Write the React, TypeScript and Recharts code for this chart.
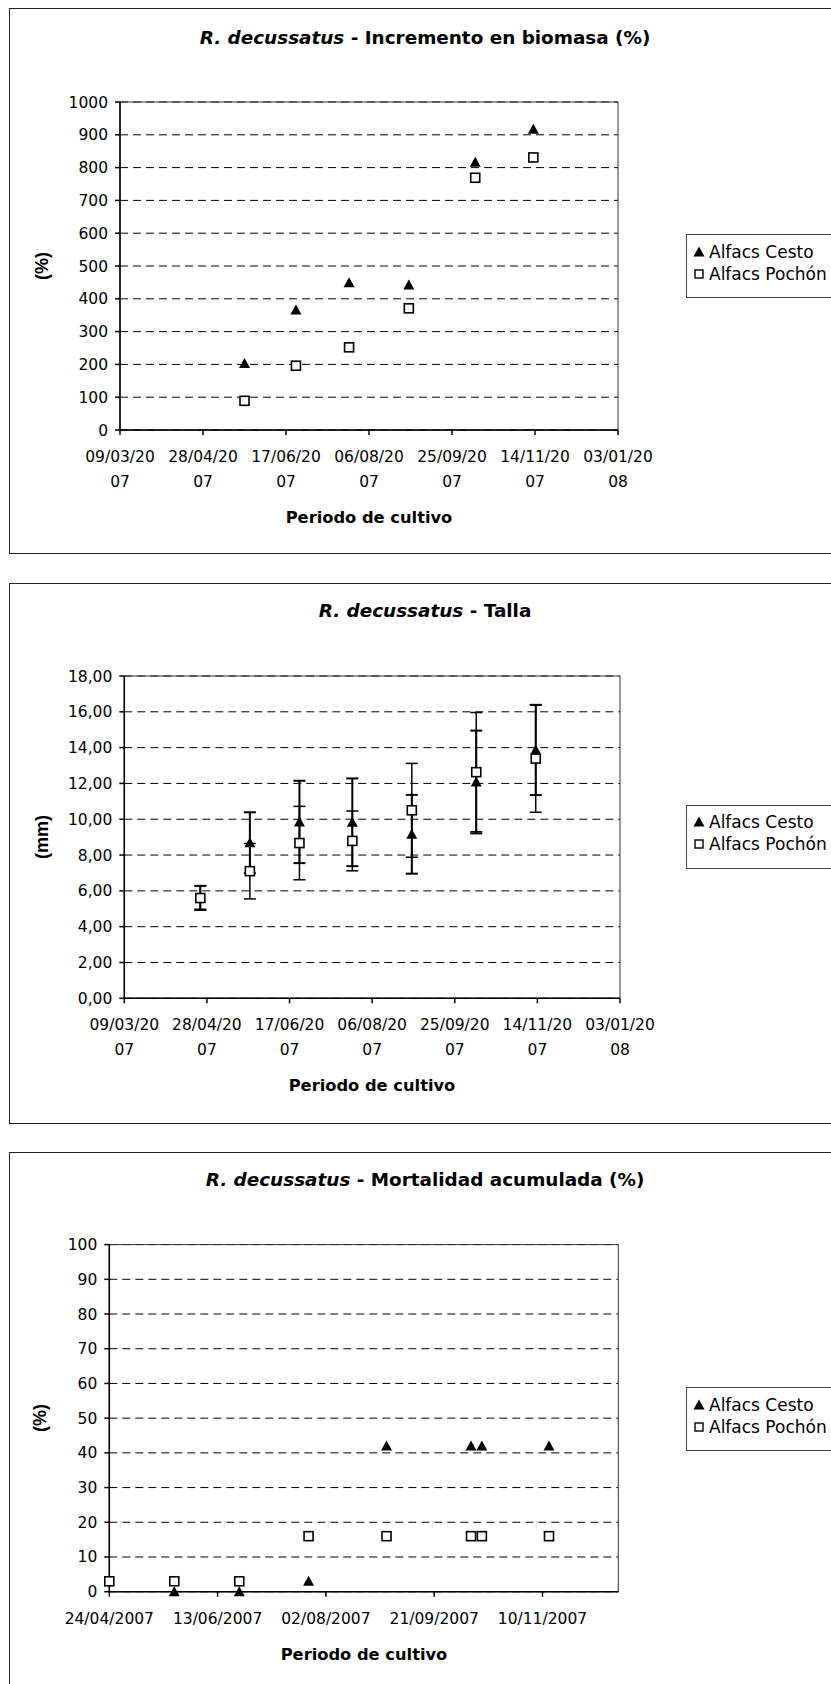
import React from 'react';
import { ScatterChart, Scatter, XAxis, YAxis, CartesianGrid, ErrorBar, ReferenceArea } from 'recharts';

const FONT = '"DejaVu Sans", sans-serif';
const RFONT = '"Liberation Sans", Arial, sans-serif';

// ---------- data ----------
const seriesNames = ['Alfacs Cesto', 'Alfacs Pochón'];

const titles = [
  ['R. decussatus', ' - Incremento en biomasa (%)'],
  ['R. decussatus', ' - Talla'],
  ['R. decussatus', ' - Mortalidad acumulada (%)'],
];
const yLabels = ['(%)', '(mm)', '(%)'];
const xLabel = 'Periodo de cultivo';

// Chart 1: Incremento en biomasa (%)
const biomasaDates = ['2007-05-23', '2007-06-23', '2007-07-25', '2007-08-30', '2007-10-09', '2007-11-13'];
const biomasaCesto = [203, 366, 449, 442, 816, 917];
const biomasaPochon = [89, 196, 252, 371, 769, 831];

// Chart 2: Talla (mm) with standard deviation
const tallaDates = ['2007-04-24', '2007-05-24', '2007-06-23', '2007-07-25', '2007-08-30', '2007-10-08', '2007-11-13'];
const tallaCesto = [5.62, 8.69, 9.85, 9.83, 9.16, 12.08, 13.87];
const tallaCestoSD = [0.66, 1.7, 2.3, 2.45, 2.2, 2.87, 2.52];
const tallaPochon = [5.6, 7.1, 8.67, 8.79, 10.5, 12.63, 13.39];
const tallaPochonSD = [0.68, 1.55, 2.05, 1.67, 2.62, 3.33, 3.0];

// Chart 3: Mortalidad acumulada (%)
const mortDates = ['2007-04-24', '2007-05-24', '2007-06-23', '2007-07-25', '2007-08-30', '2007-10-08', '2007-10-13', '2007-11-13'];
const mortCesto = [3, 0, 0, 3, 42, 42, 42, 42];
const mortPochon = [3, 3, 3, 16, 16, 16, 16, 16];

// axis ticks
const dateTicksA = ['2007-03-09', '2007-04-28', '2007-06-17', '2007-08-06', '2007-09-25', '2007-11-14', '2008-01-03'];
const dateTicksB = ['2007-04-24', '2007-06-13', '2007-08-02', '2007-09-21', '2007-11-10'];
const dateDomainB = ['2007-04-24', '2007-12-15'];
const yTicksBiomasa = [0, 100, 200, 300, 400, 500, 600, 700, 800, 900, 1000];
const yTicksTalla = [0, 2, 4, 6, 8, 10, 12, 14, 16, 18];
const yTicksMort = [0, 10, 20, 30, 40, 50, 60, 70, 80, 90, 100];

// ---------- helpers ----------
const DAY = 86400000;
const toDay = (s: string) => {
  const [y, m, d] = s.split('-').map(Number);
  return Date.UTC(y, m - 1, d) / DAY;
};
const fmtDate = (s: string) => {
  const [y, m, d] = s.split('-');
  return `${d}/${m}/${y}`;
};
const labelMap = new Map<number, string>();
[...dateTicksA, ...dateTicksB].forEach((s) => labelMap.set(toDay(s), fmtDate(s)));

const mk = (dates: string[], vals: number[], err?: number[]) =>
  dates.map((d, i) => ({ x: toDay(d), y: vals[i], err: err ? err[i] : 0 }));

const Triangle = (p: any) => {
  const { cx, cy } = p;
  if (cx == null || cy == null) return null;
  return <path d={`M${cx},${cy - 5.5}L${cx + 5.5},${cy + 4.5}L${cx - 5.5},${cy + 4.5}Z`} fill="#000" />;
};
const Square = (p: any) => {
  const { cx, cy } = p;
  if (cx == null || cy == null) return null;
  return <rect x={cx - 4.5} y={cy - 4.5} width={9} height={9} fill="#fff" stroke="#000" strokeWidth={1.6} />;
};

const TwoLineTick = (props: any) => {
  const { x, y, payload } = props;
  const label = labelMap.get(payload.value) || '';
  return (
    <text x={x} y={y} textAnchor="middle" fontFamily={FONT} fontSize={15.5} fill="#000">
      <tspan x={x} dy={26.5}>{label.slice(0, 8)}</tspan>
      <tspan x={x} dy={25}>{label.slice(8)}</tspan>
    </text>
  );
};
const OneLineTick = (props: any) => {
  const { x, y, payload } = props;
  const label = labelMap.get(payload.value) || '';
  return (
    <text x={x} y={y + 27.5} textAnchor="middle" fontFamily={FONT} fontSize={15.5} fill="#000">
      {label}
    </text>
  );
};

const W = 831;

type PanelProps = {
  svgTop: number;
  svgH: number;
  plot: { L: number; R: number; T: number; B: number };
  xDomain: [number, number];
  xTicks: number[];
  twoLine: boolean;
  yDomain: [number, number];
  yTicks: number[];
  yFmt?: (v: number) => string;
  cesto: any[];
  pochon: any[];
  errors?: boolean;
};

function Panel(pp: PanelProps) {
  const { svgTop, svgH, plot, xDomain, xTicks, twoLine, yDomain, yTicks, yFmt, cesto, pochon, errors } = pp;
  const yW = 60;
  const xH = 70;
  const margin = {
    top: plot.T - svgTop,
    left: plot.L - yW,
    right: W - plot.R,
    bottom: svgTop + svgH - plot.B - xH,
  };
  return (
    <div style={{ position: 'absolute', left: 0, top: svgTop }}>
      <ScatterChart width={W} height={svgH} margin={margin}>
        <CartesianGrid horizontal vertical={false} stroke="#000" strokeDasharray="8 5" strokeWidth={1} />
        <ReferenceArea
          x1={xDomain[0]}
          x2={xDomain[1]}
          y1={yDomain[0]}
          y2={yDomain[1]}
          fill="none"
          stroke="#333"
          strokeWidth={1}
          ifOverflow="visible"
        />
        <XAxis
          type="number"
          dataKey="x"
          domain={xDomain}
          ticks={xTicks}
          interval={0}
          height={xH}
          tickSize={5}
          tickMargin={0}
          axisLine={{ stroke: '#000', strokeWidth: 1.5 }}
          tickLine={{ stroke: '#000', strokeWidth: 1.5 }}
          tick={(p: any) => (twoLine ? <TwoLineTick {...p} /> : <OneLineTick {...p} />)}
        />
        <YAxis
          type="number"
          dataKey="y"
          domain={yDomain}
          ticks={yTicks}
          interval={0}
          width={yW}
          tickSize={5}
          tickMargin={7}
          axisLine={{ stroke: '#000', strokeWidth: 1.5 }}
          tickLine={{ stroke: '#000', strokeWidth: 1.5 }}
          tick={{ fontFamily: FONT, fontSize: 15.5, fill: '#000' }}
          tickFormatter={yFmt}
        />
        <Scatter data={cesto} shape={Triangle} isAnimationActive={false}>
          {errors && (
            <ErrorBar dataKey="err" direction="y" width={6} stroke="#000" strokeWidth={2} isAnimationActive={false} />
          )}
        </Scatter>
        <Scatter data={pochon} shape={Square} isAnimationActive={false}>
          {errors && (
            <ErrorBar dataKey="err" direction="y" width={6} stroke="#000" strokeWidth={1.5} isAnimationActive={false} />
          )}
        </Scatter>
      </ScatterChart>
    </div>
  );
}

function Frame({ top, height }: { top: number; height: number }) {
  return (
    <div
      style={{
        position: 'absolute',
        left: 9,
        top,
        width: 860,
        height,
        border: '1.5px solid #222',
        boxSizing: 'border-box',
      }}
    />
  );
}

function Title({ cy, idx }: { cy: number; idx: number }) {
  return (
    <div
      style={{
        position: 'absolute',
        left: 0,
        width: 850,
        top: cy - 12,
        height: 24,
        lineHeight: '24px',
        textAlign: 'center',
        fontFamily: FONT,
        fontWeight: 'bold',
        fontSize: 18.4,
        whiteSpace: 'nowrap',
      }}
    >
      <i>{titles[idx][0]}</i>
      {titles[idx][1]}
    </div>
  );
}

function YLabel({ cx, cy, text }: { cx: number; cy: number; text: string }) {
  return (
    <div
      style={{
        position: 'absolute',
        left: cx,
        top: cy,
        transform: 'translate(-50%, -50%) rotate(-90deg)',
        fontFamily: RFONT,
        fontWeight: 'bold',
        fontSize: 18,
        whiteSpace: 'nowrap',
      }}
    >
      {text}
    </div>
  );
}

function XLabel({ cx, cy }: { cx: number; cy: number }) {
  return (
    <div
      style={{
        position: 'absolute',
        left: cx,
        top: cy,
        transform: 'translate(-50%, -50%)',
        fontFamily: FONT,
        fontWeight: 'bold',
        fontSize: 16.3,
        whiteSpace: 'nowrap',
      }}
    >
      {xLabel}
    </div>
  );
}

function LegendBox({ top }: { top: number }) {
  const row = (i: number, cy: number) => (
    <div
      key={i}
      style={{
        position: 'absolute',
        left: 0,
        top: cy - 11,
        height: 22,
        lineHeight: '22px',
        whiteSpace: 'nowrap',
      }}
    >
      <svg width={14} height={14} style={{ position: 'absolute', left: 5, top: 4 }}>
        {i === 0 ? (
          <path d="M7,1.5L12.5,11.5L1.5,11.5Z" fill="#000" />
        ) : (
          <rect x={3} y={3} width={8} height={8} fill="#fff" stroke="#000" strokeWidth={1.4} />
        )}
      </svg>
      <span style={{ position: 'absolute', left: 22, top: 0 }}>{seriesNames[i]}</span>
    </div>
  );
  return (
    <div
      style={{
        position: 'absolute',
        left: 686,
        top,
        width: 170,
        height: 64,
        border: '1px solid #444',
        boxSizing: 'border-box',
        background: '#fff',
        fontFamily: FONT,
        fontSize: 17,
      }}
    >
      {row(0, 16.7)}
      {row(1, 38.7)}
    </div>
  );
}

export default function App() {
  const domA: [number, number] = [toDay(dateTicksA[0]), toDay(dateTicksA[dateTicksA.length - 1])];
  const domB: [number, number] = [toDay(dateDomainB[0]), toDay(dateDomainB[1])];
  const ticksA = dateTicksA.map(toDay);
  const ticksB = dateTicksB.map(toDay);
  return (
    <div
      style={{
        position: 'absolute',
        left: 0,
        top: 0,
        width: 831,
        height: 1684,
        overflow: 'hidden',
        background: '#fff',
        color: '#000',
      }}
    >
      {/* Chart 1 */}
      <Frame top={8} height={546} />
      <Title cy={37.5} idx={0} />
      <Panel
        svgTop={0}
        svgH={560}
        plot={{ L: 120, R: 618, T: 102, B: 430 }}
        xDomain={domA}
        xTicks={ticksA}
        twoLine
        yDomain={[0, 1000]}
        yTicks={yTicksBiomasa}
        cesto={mk(biomasaDates, biomasaCesto)}
        pochon={mk(biomasaDates, biomasaPochon)}
      />
      <YLabel cx={42} cy={266} text={yLabels[0]} />
      <XLabel cx={369} cy={517} />
      <LegendBox top={234} />

      {/* Chart 2 */}
      <Frame top={582.5} height={541} />
      <Title cy={611} idx={1} />
      <Panel
        svgTop={560}
        svgH={570}
        plot={{ L: 124.3, R: 620, T: 676, B: 998.3 }}
        xDomain={domA}
        xTicks={ticksA}
        twoLine
        yDomain={[0, 18]}
        yTicks={yTicksTalla}
        yFmt={(v: number) => v.toFixed(2).replace('.', ',')}
        cesto={mk(tallaDates, tallaCesto, tallaCestoSD)}
        pochon={mk(tallaDates, tallaPochon, tallaPochonSD)}
        errors
      />
      <YLabel cx={42} cy={837} text={yLabels[1]} />
      <XLabel cx={372} cy={1084.7} />
      <LegendBox top={804.5} />

      {/* Chart 3 */}
      <Frame top={1152} height={560} />
      <Title cy={1179.5} idx={2} />
      <Panel
        svgTop={1130}
        svgH={554}
        plot={{ L: 109.3, R: 618.3, T: 1244.6, B: 1591.7 }}
        xDomain={domB}
        xTicks={ticksB}
        twoLine={false}
        yDomain={[0, 100]}
        yTicks={yTicksMort}
        cesto={mk(mortDates, mortCesto)}
        pochon={mk(mortDates, mortPochon)}
      />
      <YLabel cx={40} cy={1418} text={yLabels[2]} />
      <XLabel cx={364} cy={1654} />
      <LegendBox top={1387} />
    </div>
  );
}
